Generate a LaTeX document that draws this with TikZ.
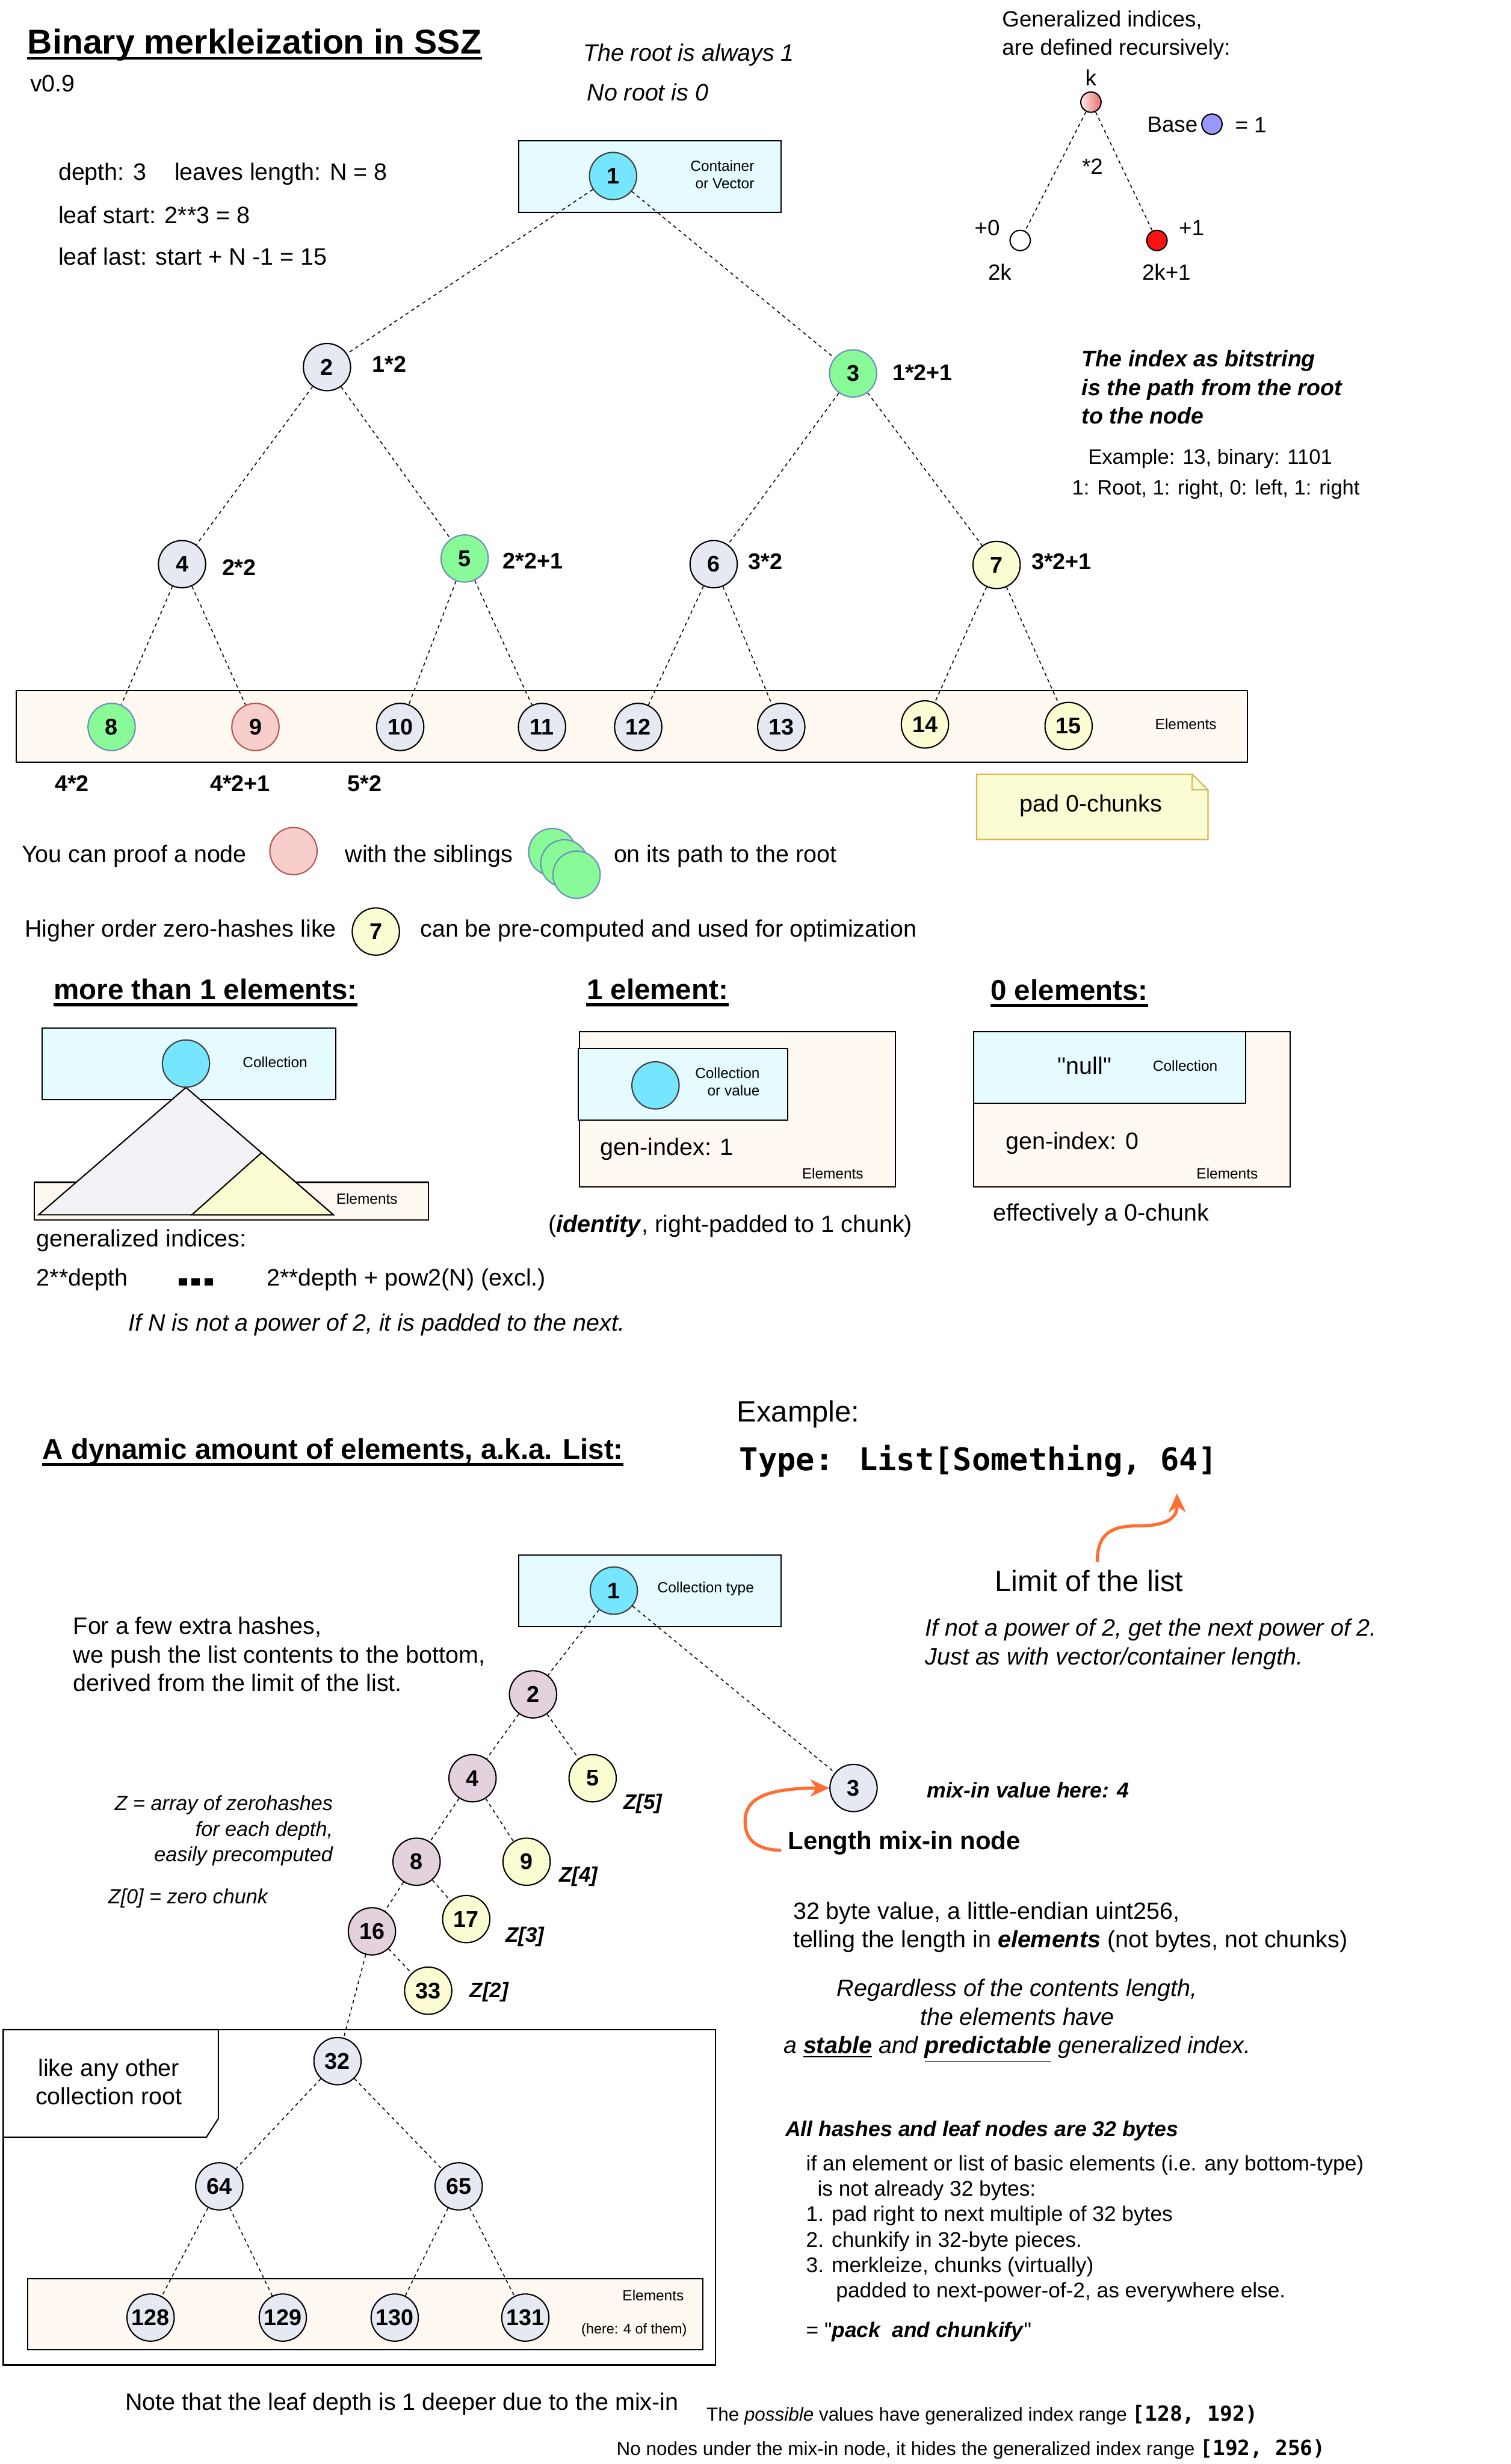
\documentclass[tikz,border=0pt]{standalone}
\usepackage{fontspec}
\setmainfont{Liberation Sans}
\newfontfamily\codefont{DejaVu Sans Mono}
\usepackage{xcolor}
\usepackage{tikz}
\usetikzlibrary{arrows.meta}

\definecolor{nodegray}{RGB}{230,233,242}
\definecolor{rootcyan}{RGB}{117,230,253}
\definecolor{boxcyan}{RGB}{230,251,255}
\definecolor{elembg}{RGB}{255,249,241}
\definecolor{sibgreen}{RGB}{136,250,152}
\definecolor{sibborder}{RGB}{108,142,191}
\definecolor{proofpink}{RGB}{248,206,204}
\definecolor{proofborder}{RGB}{184,84,80}
\definecolor{zeroyellow}{RGB}{252,252,210}
\definecolor{notebrown}{RGB}{214,182,86}
\definecolor{mixpurple}{RGB}{228,209,222}
\definecolor{trilav}{RGB}{242,242,247}
\definecolor{basepurple}{RGB}{153,153,255}
\definecolor{genred}{RGB}{255,17,17}
\definecolor{kleft}{RGB}{255,236,236}
\definecolor{kright}{RGB}{236,108,108}
\definecolor{arroworange}{RGB}{255,110,50}

\newcommand{\fbody}{\fontsize{11.3}{13.6}\selectfont}
\newcommand{\fsmall}{\fontsize{7}{8.2}\selectfont}
\newcommand{\fnum}{\fontsize{10.8}{13}\selectfont\bfseries}
\newcommand{\ftitle}{\fontsize{16.4}{19.5}\selectfont\bfseries}
\newcommand{\fhead}{\fontsize{13.6}{16}\selectfont\bfseries}
\newcommand{\fgen}{\fontsize{10.5}{13.6}\selectfont}
\newcommand{\fbig}{\fontsize{14}{17}\selectfont}
\newcommand{\fcode}{\codefont\fontsize{14.9}{18}\selectfont\bfseries}
\newcommand{\fnote}{\fontsize{10.1}{12.1}\selectfont}
\newcommand{\fzed}{\fontsize{9.8}{12.2}\selectfont\itshape}
\newcommand{\ffoot}{\fontsize{9}{11}\selectfont}
\newcommand{\fcodefoot}{\codefont\fontsize{9.9}{11}\selectfont\bfseries}

\begin{document}
\begin{tikzpicture}[x=0.026285cm, y=-0.026285cm,
  gnode/.style={circle, draw, line width=0.6pt, fill=nodegray, minimum size=0.79cm, inner sep=0pt, font=\fnum},
  rootnode/.style={fill=rootcyan, draw=black!75},
  sibnode/.style={fill=sibgreen, draw=sibborder},
  proofnode/.style={fill=proofpink, draw=proofborder},
  zeronode/.style={fill=zeroyellow},
  mixnode/.style={fill=mixpurple},
  gdot/.style={circle, draw, line width=0.6pt, minimum size=0.34cm, inner sep=0pt},
  link/.style={line width=0.45pt, dash pattern=on 1.6pt off 1.6pt},
  framebox/.style={draw, line width=0.6pt},
  txt/.style={anchor=west, inner sep=0pt, font=\fbody},
  smalltxt/.style={inner sep=0pt, font=\fsmall},
  lbl/.style={anchor=west, inner sep=0pt, font=\fnum},
  zlbl/.style={anchor=west, inner sep=0pt, font=\fontsize{10}{12}\selectfont\bfseries\itshape},
  sechead/.style={anchor=base west, inner sep=0pt, font=\fhead},
  orangearrow/.style={arroworange, line width=1.5pt, -{Stealth[length=0.32cm, width=0.29cm]}}]
\fill[white] (0,0) rectangle (961,1568);
\useasboundingbox (0,0) rectangle (961,1568);

% title block
\node[anchor=base west, inner sep=0pt, font=\ftitle] (title) at (17.3,34.2) {Binary merkleization in SSZ};
\draw[line width=1pt] ([yshift=-2.2pt]title.base west) -- ([yshift=-2.2pt]title.base east);
\node[txt] (version) at (18.9,53.1) {v0.9};
\node[txt, font=\fbody\itshape] (rootone) at (370.7,34.8) {The root is always 1};
\node[txt, font=\fbody\itshape] (rootzero) at (373.2,58.8) {No root is 0};
\node[txt] (depthline) at (36.9,110.6) {depth: 3\hspace{0.47cm}leaves length: N = 8};
\node[txt] (leafstart) at (36.9,136.9) {leaf start: 2**3 = 8};
\node[txt] (leaflast) at (36.9,163.1) {leaf last: start + N -1 = 15};

% recursive definition
\node[txt, font=\fgen, align=left] (gentext) at (637.3,22.3) {Generalized indices,\\are defined recursively:};
\node[inner sep=0pt, font=\fgen] (klbl) at (694,49.5) {k};
\node[gdot, left color=kleft, right color=kright] (gk) at (694,65) {};
\node[txt, font=\fgen] (baselbl) at (729.6,79.4) {Base};
\node[gdot, fill=basepurple] (gbase) at (771,79) {};
\node[txt, font=\fgen] (baseval) at (785.5,79.4) {= 1};
\node[inner sep=0pt, font=\fgen] (gtimes) at (695,106) {*2};
\node[gdot, fill=white] (gleft) at (649,153) {};
\node[gdot, fill=genred] (gright) at (736,153) {};
\node[inner sep=0pt, font=\fgen] (gplus0) at (628,145) {+0};
\node[inner sep=0pt, font=\fgen] (gplus1) at (758,145) {+1};
\node[inner sep=0pt, font=\fgen] (g2k) at (636,173) {2k};
\node[inner sep=0pt, font=\fgen] (g2k1) at (742,173) {2k+1};
\draw[link] (gk) -- (gleft);
\draw[link] (gk) -- (gright);

% fixed-size tree
\draw[framebox, fill=boxcyan] (330,89.5) rectangle (497,135);
\draw[framebox, fill=elembg] (10.4,439.4) rectangle (793.6,484.9);
\node[smalltxt, anchor=east, align=right] (contlbl) at (480.1,111) {Container\\or Vector};
\node[smalltxt] (elemlbl) at (754.4,460.7) {Elements};
\node[gnode, rootnode] (t1) at (390,112) {1};
\node[gnode] (t2) at (208,233.6) {2};
\node[gnode, sibnode] (t3) at (542.7,237.6) {3};
\node[gnode] (t4) at (115.8,359) {4};
\node[gnode, sibnode] (t5) at (295.6,355.4) {5};
\node[gnode] (t6) at (454,359) {6};
\node[gnode, zeronode] (t7) at (634,359.5) {7};
\node[gnode, sibnode] (t8) at (71,462.6) {8};
\node[gnode, proofnode] (t9) at (162.5,462.6) {9};
\node[gnode] (t10) at (254.6,462.6) {10};
\node[gnode] (t11) at (344.8,462.6) {11};
\node[gnode] (t12) at (406,462.6) {12};
\node[gnode] (t13) at (497,462.6) {13};
\node[gnode, zeronode] (t14) at (588.4,461) {14};
\node[gnode, zeronode] (t15) at (679.8,462) {15};
\foreach \a/\b in {1/2,1/3,2/4,2/5,3/6,3/7,4/8,4/9,5/10,5/11,6/12,6/13,7/14,7/15}
  \draw[link] (t\a) -- (t\b);
% index formulas
\node[lbl] (f2) at (236.6,231.7) {1*2};
\node[lbl] (f3) at (567.5,237) {1*2+1};
\node[lbl] (f4) at (141,361) {2*2};
\node[lbl] (f5) at (319.6,357) {2*2+1};
\node[lbl] (f6) at (475.8,357.5) {3*2};
\node[lbl] (f7) at (656,357.5) {3*2+1};
\node[lbl] (f8) at (34.7,498.5) {4*2};
\node[lbl] (f9) at (133.4,498.5) {4*2+1};
\node[lbl] (f10) at (220.8,498.5) {5*2};

% bitstring remark
\node[txt, font=\fontsize{10.75}{13.5}\selectfont\bfseries\itshape, align=left] (bitpath) at (688,246.4) {The index as bitstring\\is the path from the root\\to the node};
\node[txt, font=\fontsize{9.9}{12}\selectfont] (bitex) at (692,292) {Example: 13, binary: 1101};
\node[txt, font=\fontsize{9.9}{12}\selectfont] (bitsteps) at (681.8,311.4) {1: Root, 1: right, 0: left, 1: right};

% padding note
\draw[line width=0.6pt, draw=notebrown, fill=zeroyellow] (621.3,492.7) -- (758.5,492.7) -- (768.5,502.7) -- (768.5,534.2) -- (621.3,534.2) -- cycle;
\draw[line width=0.6pt, draw=notebrown] (758.5,492.7) -- (758.5,502.7) -- (768.5,502.7);
\node[inner sep=0pt, font=\fbody] (padnote) at (694,512.5) {pad 0-chunks};

% legend
\node[txt] (proofa) at (13.6,544.7) {You can proof a node};
\node[gnode, proofnode] (proofdot) at (186.7,541.6) {};
\node[txt] (proofb) at (219.3,544.7) {with the siblings};
\node[gnode, sibnode] (sib1) at (351.3,542.2) {};
\node[gnode, sibnode] (sib2) at (359,549.4) {};
\node[gnode, sibnode] (sib3) at (366.8,556.6) {};
\node[txt] (proofc) at (390.2,544.7) {on its path to the root};
\node[txt] (zeroa) at (15.5,592.2) {Higher order zero-hashes like};
\node[gnode, zeronode] (zerodot) at (239.1,592.8) {7};
\node[txt] (zerob) at (267.1,592.2) {can be pre-computed and used for optimization};

% section headings
\node[sechead] (hmany) at (34,635.9) {more than 1 elements:};
\node[sechead] (hone) at (373,635.9) {1 element:};
\node[sechead] (hzero) at (630,636.5) {0 elements:};
\node[sechead] (hlist) at (26.8,928.5) {A dynamic amount of elements, a.k.a. List:};
\foreach \h in {hmany,hone,hzero,hlist}
  \draw[line width=1.5pt] ([yshift=-2.5pt]\h.base west) -- ([yshift=-2.5pt]\h.base east);

% more than 1 elements
\draw[framebox, fill=boxcyan] (26.8,654.2) rectangle (213.6,699.9);
\draw[framebox, fill=elembg] (21.8,752.4) rectangle (272.5,776.2);
\draw[line width=0.6pt, fill=trilav] (118.3,692) -- (212,773) -- (24.6,773) -- cycle;
\draw[line width=0.6pt, fill=zeroyellow] (166.4,733.5) -- (212,773) -- (122.1,773) -- cycle;
\node[gnode, rootnode] (mroot) at (118.3,676.8) {};
\node[smalltxt] (mcoll) at (175,676) {Collection};
\node[smalltxt] (melem) at (233.4,762.8) {Elements};
\node[txt] (mgen) at (23,789.6) {generalized indices:};
\node[txt] (mfrom) at (23,814.3) {2**depth};
\foreach \x in {113.6,121.8,130}
  \fill (\x,813.3) rectangle ++(5.4,4.6);
\node[txt] (mto) at (169.4,814.3) {2**depth + pow2(N) (excl.)};
\node[txt, font=\fbody\itshape] (mpad) at (81.4,843) {If N is not a power of 2, it is padded to the next.};

% 1 element
\draw[framebox, fill=elembg] (368.5,656.6) rectangle (569.5,755.3);
\draw[framebox, fill=boxcyan] (367.8,667.3) rectangle (501.1,712.8);
\node[gnode, rootnode] (oroot) at (417,690.7) {};
\node[smalltxt, anchor=east, align=right] (ocoll) at (483.6,688.3) {Collection\\or value};
\node[txt] (ogen) at (381.7,731.2) {gen-index: 1};
\node[smalltxt] (oelem) at (529.7,746.6) {Elements};
\node[txt] (oident) at (348.6,780.3) {(\textbf{\textit{identity}}, right-padded to 1 chunk)};

% 0 elements
\draw[framebox, fill=elembg] (619.5,656.6) rectangle (820.6,755.3);
\draw[framebox, fill=boxcyan] (619.5,656.6) rectangle (792.3,702.1);
\node[inner sep=0pt, font=\fbody] (znull) at (690,678) {\textquotedbl null\textquotedbl};
\node[smalltxt] (zcoll) at (754,678.3) {Collection};
\node[txt] (zgen) at (639.5,727.6) {gen-index: 0};
\node[smalltxt] (zelem) at (780.7,746.6) {Elements};
\node[txt] (zchunk) at (631.4,773) {effectively a 0-chunk};

% list example
\node[txt, font=\fbig] (exlbl) at (468.6,900) {Example:};
\node[txt, font=\fcode] (extype) at (470.2,929.6) {Type: List[Something, 64]};
\node[txt, font=\fbig] (limit) at (632.8,1006) {Limit of the list};
\coordinate (limitfoot) at (698,994);
\coordinate (limittip) at (748.7,950.3);
\draw[orangearrow] (limitfoot) .. controls (698,975) and (708,971) .. (724,971) .. controls (744,971) and (749,965) .. (limittip);
\node[txt, font=\fbody\itshape, align=left] (limitpow) at (588.4,1046.3) {If not a power of 2, get the next power of 2.\\Just as with vector/container length.};
\node[txt, align=left] (pushnote) at (46.4,1052.8) {For a few extra hashes,\\we push the list contents to the bottom,\\derived from the limit of the list.};

% list tree
\draw[framebox, fill=boxcyan] (330,989.5) rectangle (497,1035);
\draw[framebox] (2.1,1291.6) rectangle (455,1505);
\draw[framebox, fill=white] (2.1,1291.6) -- (138.9,1291.6) -- (138.9,1348.2) -- (131.3,1360) -- (2.1,1360) -- cycle;
\node[inner sep=0pt, font=\fbody, align=center] (anyroot) at (69.2,1324.8) {like any other\\collection root};
\draw[framebox, fill=elembg] (17.6,1450) rectangle (447,1495.1);
\node[smalltxt, anchor=west] (ltype) at (418,1011) {Collection type};
\node[smalltxt] (lelem) at (415.5,1460.7) {Elements};
\node[smalltxt, font=\fontsize{6.7}{8}\selectfont] (lfour) at (403.4,1482.6) {(here: 4 of them)};
\node[gnode, rootnode] (l1) at (390.5,1012.2) {1};
\node[gnode, mixnode] (l2) at (339.1,1078.2) {2};
\node[gnode] (l3) at (543,1137.8) {3};
\node[gnode, mixnode] (l4) at (300.6,1131.6) {4};
\node[gnode, zeronode] (l5) at (377,1131.6) {5};
\node[gnode, mixnode] (l8) at (265,1184.7) {8};
\node[gnode, zeronode] (l9) at (335,1184.7) {9};
\node[gnode, mixnode] (l16) at (236.6,1229) {16};
\node[gnode, zeronode] (l17) at (296.6,1221.2) {17};
\node[gnode, zeronode] (l33) at (272.4,1266.8) {33};
\node[gnode] (l32) at (214.7,1311.6) {32};
\node[gnode] (l64) at (139.5,1391.3) {64};
\node[gnode] (l65) at (291.8,1391.3) {65};
\node[gnode] (l128) at (95.8,1474.8) {128};
\node[gnode] (l129) at (179.9,1474.8) {129};
\node[gnode] (l130) at (251.1,1474.8) {130};
\node[gnode] (l131) at (334.2,1474.8) {131};
\foreach \a/\b in {1/2,1/3,2/4,2/5,4/8,4/9,8/16,8/17,16/32,16/33,32/64,32/65,64/128,64/129,65/130,65/131}
  \draw[link] (l\a) -- (l\b);
% zero hashes
\node[zlbl] (z5) at (396.5,1148) {Z[5]};
\node[zlbl] (z4) at (355.5,1194.3) {Z[4]};
\node[zlbl] (z3) at (321.5,1232.6) {Z[3]};
\node[zlbl] (z2) at (298.7,1267.5) {Z[2]};
\node[inner sep=0pt, anchor=east, align=right, font=\fzed] (zarray) at (212,1165) {Z = array of zerohashes\\for each depth,\\easily precomputed};
\node[txt, font=\fzed] (zzero) at (68.5,1208) {Z[0] = zero chunk};

% mix-in
\node[txt, font=\fontsize{10.2}{12}\selectfont\bfseries\itshape] (mixval) at (589.4,1139.3) {mix-in value here: 4};
\node[txt, font=\fontsize{12}{14}\selectfont\bfseries] (mixlbl) at (501,1173) {Length mix-in node};
\coordinate (mixfoot) at (497,1177.5);
\draw[orangearrow] (mixfoot) .. controls (479,1177) and (474,1169) .. (474,1159) .. controls (474,1145) and (486,1138) .. (l3.west);
\node[txt, align=left] (mixdesc) at (504.3,1226.4) {32 byte value, a little-endian uint256,\\telling the length in \textbf{\textit{elements}} (not bytes, not chunks)};
\node[inner sep=0pt, font=\fbody\itshape, align=center] (stable) at (647.1,1286) {Regardless of the contents length,\\the elements have\\a \underline{\textbf{stable}} and \underline{\textbf{predictable}} generalized index.};

% chunking rules
\node[txt, font=\fontsize{10.2}{12}\selectfont\bfseries\itshape] (allhash) at (499.3,1356) {All hashes and leaf nodes are 32 bytes};
\node[txt, font=\fnote, align=left] (packrules) at (512.6,1418.3) {if an element or list of basic elements (i.e. any bottom-type)\\\hspace*{0.19cm}is not already 32 bytes:\\1. pad right to next multiple of 32 bytes\\2. chunkify in 32-byte pieces.\\3. merkleize, chunks (virtually)\\\hspace*{0.5cm}padded to next-power-of-2, as everywhere else.};
\node[txt, font=\fnote] (packname) at (512.6,1483.8) {= \textquotedbl\textbf{\textit{pack\ \ and chunkify}}\textquotedbl};

% footer
\node[txt] (deeper) at (79.5,1529.8) {Note that the leaf depth is 1 deeper due to the mix-in};
\node[txt, font=\ffoot] (possible) at (449.2,1536.8) {The \textit{possible} values have generalized index range {\fcodefoot [128, 192)}};
\node[txt, font=\ffoot] (hidden) at (392,1558.6) {No nodes under the mix-in node, it hides the generalized index range {\fcodefoot [192, 256)}};
\end{tikzpicture}
\end{document}
